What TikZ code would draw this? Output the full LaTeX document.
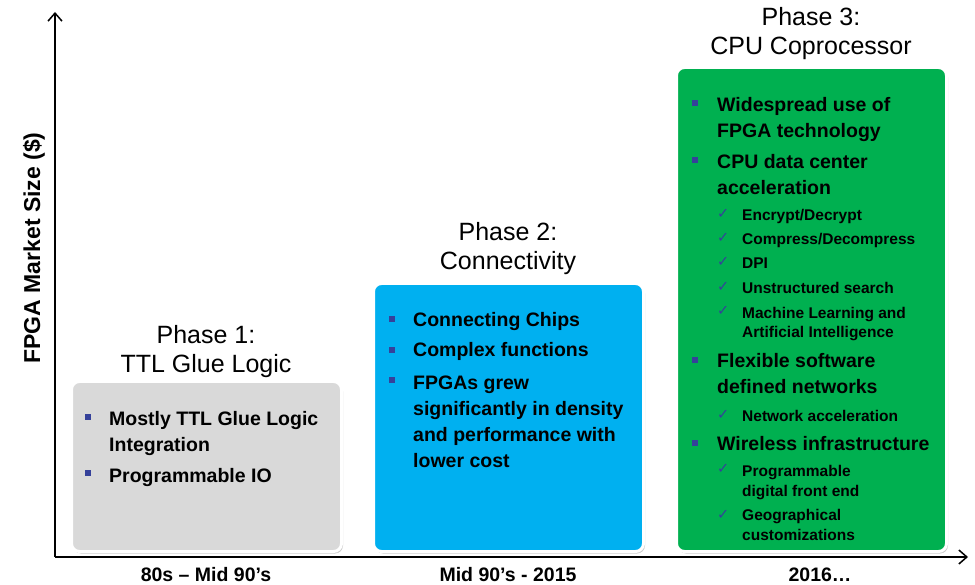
\documentclass[tikz,border=0pt]{standalone}
\usepackage{fontspec}
\setmainfont{Liberation Sans}
\newfontfamily\tickfont{DejaVu Sans}
\usetikzlibrary{arrows.meta,shadows}
\definecolor{gluegray}{HTML}{D9D9D9}
\definecolor{linkblue}{HTML}{00B0F0}
\definecolor{cpugreen}{HTML}{00B050}
\definecolor{dotblue}{HTML}{35419A}
\tikzset{
  phasebox/.style={draw=white, line width=3pt, rounded corners=8pt, anchor=north west,
    inner sep=0pt, outer sep=0pt,
    drop shadow={shadow xshift=1.5pt, shadow yshift=-2pt, fill=black!60, opacity=.35}},
  phase/.style={anchor=base, align=center, inner sep=0pt, font=\fontsize{25}{29.5}\selectfont},
  item/.style={anchor=base west, align=left, inner sep=0pt, font=\bfseries\fontsize{19.5}{26}\selectfont},
  subitem/.style={item, font=\bfseries\fontsize{15.5}{20}\selectfont},
  sq/.style={fill=dotblue, minimum size=5.5pt, inner sep=0pt},
  tickmark/.style={anchor=base west, inner sep=0pt, text=dotblue, font=\tickfont\fontsize{14.5}{14.5}\selectfont},
  era/.style={anchor=base, inner sep=0pt, font=\bfseries\fontsize{19.5}{19.5}\selectfont},
  axis/.style={line width=1.5pt, -{Straight Barb[length=8pt,width=14pt]}}
}
\begin{document}
\begin{tikzpicture}[x=1pt,y=-1pt]
  \useasboundingbox (0,0) rectangle (975,585);

  % axes
  \coordinate (origin) at (55,557);
  \coordinate (ytop) at (55,12);
  \coordinate (xend) at (968,557);
  \draw[axis] (origin) -- (ytop);
  \draw[axis] (origin) -- (xend);
  \node[rotate=90, font=\bfseries\fontsize{23}{23}\selectfont] (ylabel) at (34,248) {FPGA Market Size (\$)};

  % phase boxes
  \node[phasebox, fill=gluegray, minimum width=270pt, minimum height=170pt] (glue) at (71.5,381.5) {};
  \node[phasebox, fill=linkblue, minimum width=270pt, minimum height=268pt] (link) at (373.5,283.5) {};
  \node[phasebox, fill=cpugreen, minimum width=270pt, minimum height=484pt] (cpu) at (676.5,67.5) {};

  % titles (base = last line)
  \node[phase] (glue title) at (206,373) {Phase 1:\\TTL Glue Logic};
  \node[phase] (link title) at (508,270) {Phase 2:\\Connectivity};
  \node[phase] (cpu title) at (811,55) {Phase 3:\\CPU Coprocessor};

  % phase 1
  \node[sq] (g1 dot) at (88,417) {};
  \node[item] (g1) at (109,451) {Mostly TTL Glue Logic\\Integration};
  \node[sq] (g2 dot) at (88,473) {};
  \node[item] (g2) at (109,482) {Programmable IO};

  % phase 2
  \node[sq] (c1 dot) at (392,319) {};
  \node[item] (c1) at (413,327) {Connecting Chips};
  \node[sq] (c2 dot) at (392,350) {};
  \node[item] (c2) at (413,357) {Complex functions};
  \node[sq] (c3 dot) at (392,380) {};
  \node[item] (c3) at (413,467) {FPGAs grew\\significantly in density\\and performance with\\lower cost};

  % phase 3
  \node[sq] (w1 dot) at (695,103) {};
  \node[item] (w1) at (717,138) {Widespread use of\\FPGA technology};
  \node[sq] (w2 dot) at (695,160) {};
  \node[item] (w2) at (717,195) {CPU data center\\acceleration};
  \node[tickmark] (s1 tick) at (717,219) {✓};
  \node[subitem] (s1) at (742,221) {Encrypt/Decrypt};
  \node[tickmark] (s2 tick) at (717,243) {✓};
  \node[subitem] (s2) at (742,245) {Compress/Decompress};
  \node[tickmark] (s3 tick) at (717,267) {✓};
  \node[subitem] (s3) at (742,269) {DPI};
  \node[tickmark] (s4 tick) at (717,292) {✓};
  \node[subitem] (s4) at (742,294) {Unstructured search};
  \node[tickmark] (s5 tick) at (717,316) {✓};
  \node[subitem] (s5) at (742,338) {Machine Learning and\\Artificial Intelligence};
  \node[sq] (w3 dot) at (695,360) {};
  \node[item] (w3) at (717,394) {Flexible software\\defined networks};
  \node[tickmark] (s6 tick) at (717,419) {✓};
  \node[subitem] (s6) at (742,421) {Network acceleration};
  \node[sq] (w4 dot) at (695,443) {};
  \node[item] (w4) at (717,450) {Wireless infrastructure};
  \node[tickmark] (s7 tick) at (717,473) {✓};
  \node[subitem] (s7) at (742,496) {Programmable\\digital front end};
  \node[tickmark] (s8 tick) at (717,519) {✓};
  \node[subitem] (s8) at (742,540) {Geographical\\customizations};

  % time axis labels
  \node[era] (glue era) at (206,581) {80s – Mid 90’s};
  \node[era] (link era) at (508,581) {Mid 90’s - 2015};
  \node[era] (cpu era) at (820,581) {2016…};
\end{tikzpicture}
\end{document}
